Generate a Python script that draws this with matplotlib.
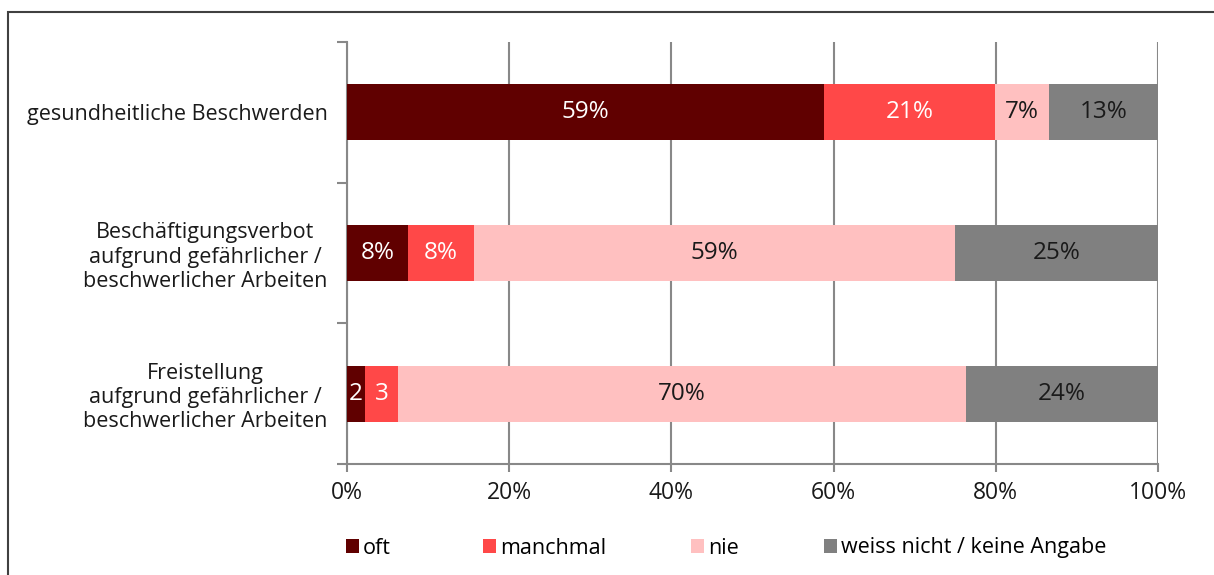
import numpy as np
import matplotlib
matplotlib.use("Agg")
import matplotlib.pyplot as plt
from matplotlib.patches import Rectangle

plt.rcParams['font.family'] = ['Open Sans', 'DejaVu Sans']

# categories, top to bottom
categories = [
    "gesundheitliche Beschwerden",
    "Beschäftigungsverbot\naufgrund gefährlicher /\nbeschwerlicher Arbeiten",
    "Freistellung\naufgrund gefährlicher /\nbeschwerlicher Arbeiten",
]
series_names = ["oft", "manchmal", "nie", "weiss nicht / keine Angabe"]

# shares in percent
oft = [58.8, 7.5, 2.2]
manchmal = [21.1, 8.2, 4.1]
nie = [6.7, 59.3, 70.0]
weiss_nicht = [13.4, 25.0, 23.7]

# labels as printed in the bars
oft_labels = ["59%", "8%", "2"]
manchmal_labels = ["21%", "8%", "3"]
nie_labels = ["7%", "59%", "70%"]
weiss_labels = ["13%", "25%", "24%"]

colors = ["#600000", "#FF4848", "#FFC0C0", "#808080"]
text_colors = ["white", "white", "#1a1a1a", "#1a1a1a"]

fig = plt.figure(figsize=(12.14, 5.75), dpi=100)
ax = fig.add_axes([347 / 1214, 1 - 464 / 575, 811 / 1214, 422 / 575])

# outer border
fig.patches.append(Rectangle((8 / 1214, -0.1), 1.2, 1 - 12 / 575 + 0.1,
                             transform=fig.transFigure, fill=False,
                             edgecolor="#404040", linewidth=1.5))

y = np.arange(len(categories))
series = [oft, manchmal, nie, weiss_nicht]
labels = [oft_labels, manchmal_labels, nie_labels, weiss_labels]

handles = []
left = np.zeros(len(categories))
for vals, labs, col, tcol, name in zip(series, labels, colors, text_colors, series_names):
    vals = np.array(vals)
    bars = ax.barh(y, vals, left=left, height=0.4, color=col, label=name, zorder=3)
    handles.append(bars)
    for b, lab in zip(bars, labs):
        ax.text(b.get_x() + b.get_width() / 2, b.get_y() + b.get_height() / 2, lab,
                ha="center", va="center", color=tcol, fontsize=17.5, zorder=4)
    left = left + vals

ax.set_xlim(0, 100)
ax.set_ylim(len(categories) - 0.5, -0.5)
ax.set_xticks(np.arange(0, 101, 20))
ax.set_xticklabels([f"{v}%" for v in range(0, 101, 20)], fontsize=16.5, color="#1a1a1a")
ax.set_yticks(y)
ax.set_yticklabels(categories, fontsize=15.5, color="#1a1a1a")
ax.set_yticks(np.arange(-0.5, len(categories), 1), minor=True)
ax.tick_params(axis="y", which="major", length=0, pad=14)
ax.tick_params(axis="y", which="minor", length=7, color="#888888", width=1.5)
ax.tick_params(axis="x", length=6, color="#888888", width=1.5, pad=6)
for lab in ax.get_yticklabels():
    lab.set_multialignment("center")

ax.grid(axis="x", color="#888888", linewidth=1.5, zorder=0)
for s in ["top", "right"]:
    ax.spines[s].set_visible(False)
for s in ["left", "bottom"]:
    ax.spines[s].set_color("#888888")
    ax.spines[s].set_linewidth(1.5)

# legend entries placed one by one
legend_x = [346, 483, 691, 824]
for h, name, lx in zip(handles, series_names, legend_x):
    leg = fig.legend([h], [name], loc="center left",
                     bbox_to_anchor=(lx / 1214, 1 - 548 / 575),
                     frameon=False, fontsize=15.5, handlelength=0.6,
                     handleheight=0.6, handletextpad=0.2, borderaxespad=0,
                     borderpad=0)

fig.savefig("out.png", dpi=100)
